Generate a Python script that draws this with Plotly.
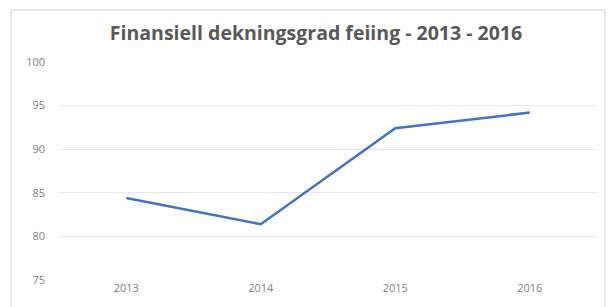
import plotly.graph_objects as go

years = ["2013", "2014", "2015", "2016"]
values = [84.4, 81.4, 92.4, 94.2]
y_ticks = [75, 80, 85, 90, 95, 100]
title_text = "Finansiell dekningsgrad feiing - 2013 - 2016"

fig = go.Figure()
fig.add_trace(go.Scatter(
    x=years, y=values, mode="lines",
    line=dict(color="#4472C4", width=2.5),
    hoverinfo="x+y",
))

# page has an 8px body margin; figure sized to fit the window
OFF = 8
W, H = 614 - OFF, 307 - OFF
L, R, T, B = 59 - OFF, 17, 62 - OFF, 27
pw, ph = W - L - R, H - T - B

fig.update_layout(
    width=W, height=H,
    margin=dict(l=L, r=R, t=T, b=B),
    paper_bgcolor="white", plot_bgcolor="white",
    showlegend=False,
    title=dict(text="<b>" + title_text + "</b>", x=(316 - OFF - L) / pw, xref="paper",
               xanchor="center", y=1 - (33 - OFF) / H, yanchor="middle",
               font=dict(family="Open Sans, Calibri, sans-serif", size=19.5, color="#595959")),
    xaxis=dict(type="category", range=[-0.5, 3.5], showgrid=False, zeroline=False, showline=False,
               ticks="", tickfont=dict(family="Open Sans, sans-serif", size=11, color="#7f7f7f")),
    yaxis=dict(range=[75, 100], tickvals=y_ticks, showgrid=True, gridcolor="#e6e6e6",
               gridwidth=1, zeroline=False, showline=False, ticks="",
               ticklabelstandoff=13,
               tickfont=dict(family="Open Sans, sans-serif", size=11, color="#7f7f7f")),
    shapes=[dict(type="rect", xref="paper", yref="paper",
                 x0=(11 - OFF - L) / pw, x1=(605 - OFF - L) / pw,
                 y0=-(B + 5) / ph, y1=(H - B - (10 - OFF)) / ph,
                 line=dict(color="#e0e0e0", width=1.5), layer="below")],
)

fig.write_html("out.html")
